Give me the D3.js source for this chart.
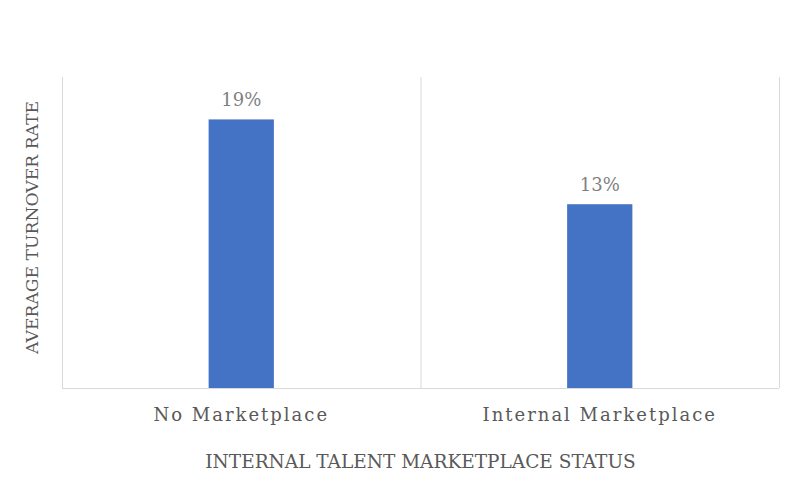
<!DOCTYPE html>
<html>
<head>
<meta charset="utf-8">
<script src="https://cdn.jsdelivr.net/npm/d3@7"></script>
<style>
  body { margin: 0; background: #fff; }
  text { font-family: "DejaVu Serif", "Liberation Serif", serif; }
</style>
</head>
<body>
<svg id="chart" width="786" height="484"></svg>
<script>
// data
let categories = ["No Marketplace", "Internal Marketplace"]
let turnover = [0.19, 0.13]
let yMax = 0.22

let margin = {left: 62, right: 7, top: 77, bottom: 96}
let W = 786, H = 484

let svg = d3.select("#chart")

let xScale = d3.scaleBand().domain(categories)
    .range([margin.left, W - margin.right])
    .paddingInner(0).paddingOuter(0)
let yScale = d3.scaleLinear().domain([0, yMax])
    .range([H - margin.bottom, margin.top])

// vertical grid lines at category borders
let borders = categories.map(c => xScale(c)).concat([xScale.range()[1]])
svg.selectAll(".vgrid").data(borders).enter().append("line")
    .attr("class", "vgrid")
    .attr("x1", d => d + 0.5).attr("x2", d => d + 0.5)
    .attr("y1", yScale(yMax)).attr("y2", yScale(0))
    .attr("stroke", "#d9d9d9").attr("stroke-width", 1)

// bars
let barW = xScale.bandwidth() * 0.182
svg.selectAll(".bar").data(turnover).enter().append("rect")
    .attr("class", "bar")
    .attr("x", (d, i) => xScale(categories[i]) + xScale.bandwidth() / 2 - barW / 2)
    .attr("y", d => yScale(d))
    .attr("width", barW)
    .attr("height", d => yScale(0) - yScale(d))
    .attr("fill", "#4472c4")

// baseline
svg.append("line")
    .attr("x1", xScale.range()[0]).attr("x2", xScale.range()[1])
    .attr("y1", yScale(0) + 0.5).attr("y2", yScale(0) + 0.5)
    .attr("stroke", "#d9d9d9")

// data labels
svg.selectAll(".dlabel").data(turnover).enter().append("text")
    .attr("class", "dlabel")
    .attr("x", (d, i) => xScale(categories[i]) + xScale.bandwidth() / 2)
    .attr("y", d => yScale(d) - 13)
    .attr("text-anchor", "middle")
    .attr("font-size", 18)
    .attr("fill", "#7f7f7f")
    .text(d => d3.format(".0%")(d))

// x axis category labels
let xAxis = d3.axisBottom(xScale).tickSize(0).tickPadding(0)
let gx = svg.append("g").attr("transform", `translate(0,${yScale(0)})`).call(xAxis)
gx.select(".domain").remove()
gx.selectAll("text")
    .attr("y", 33)
    .attr("dy", 0)
    .attr("font-size", 18)
    .attr("font-family", "DejaVu Serif")
    .attr("letter-spacing", "2px")
    .attr("fill", "#595959")

// axis titles
svg.append("text")
    .attr("x", (margin.left + W - margin.right) / 2)
    .attr("y", 468)
    .attr("text-anchor", "middle")
    .attr("font-size", 18.5)
    .attr("fill", "#595959")
    .text("INTERNAL TALENT MARKETPLACE STATUS")

svg.append("text")
    .attr("transform", `translate(38,${(yScale(0) + yScale(yMax)) / 2 - 5}) rotate(-90)`)
    .attr("text-anchor", "middle")
    .attr("font-size", 17.2)
    .attr("fill", "#595959")
    .text("AVERAGE TURNOVER RATE")
</script>
</body>
</html>
